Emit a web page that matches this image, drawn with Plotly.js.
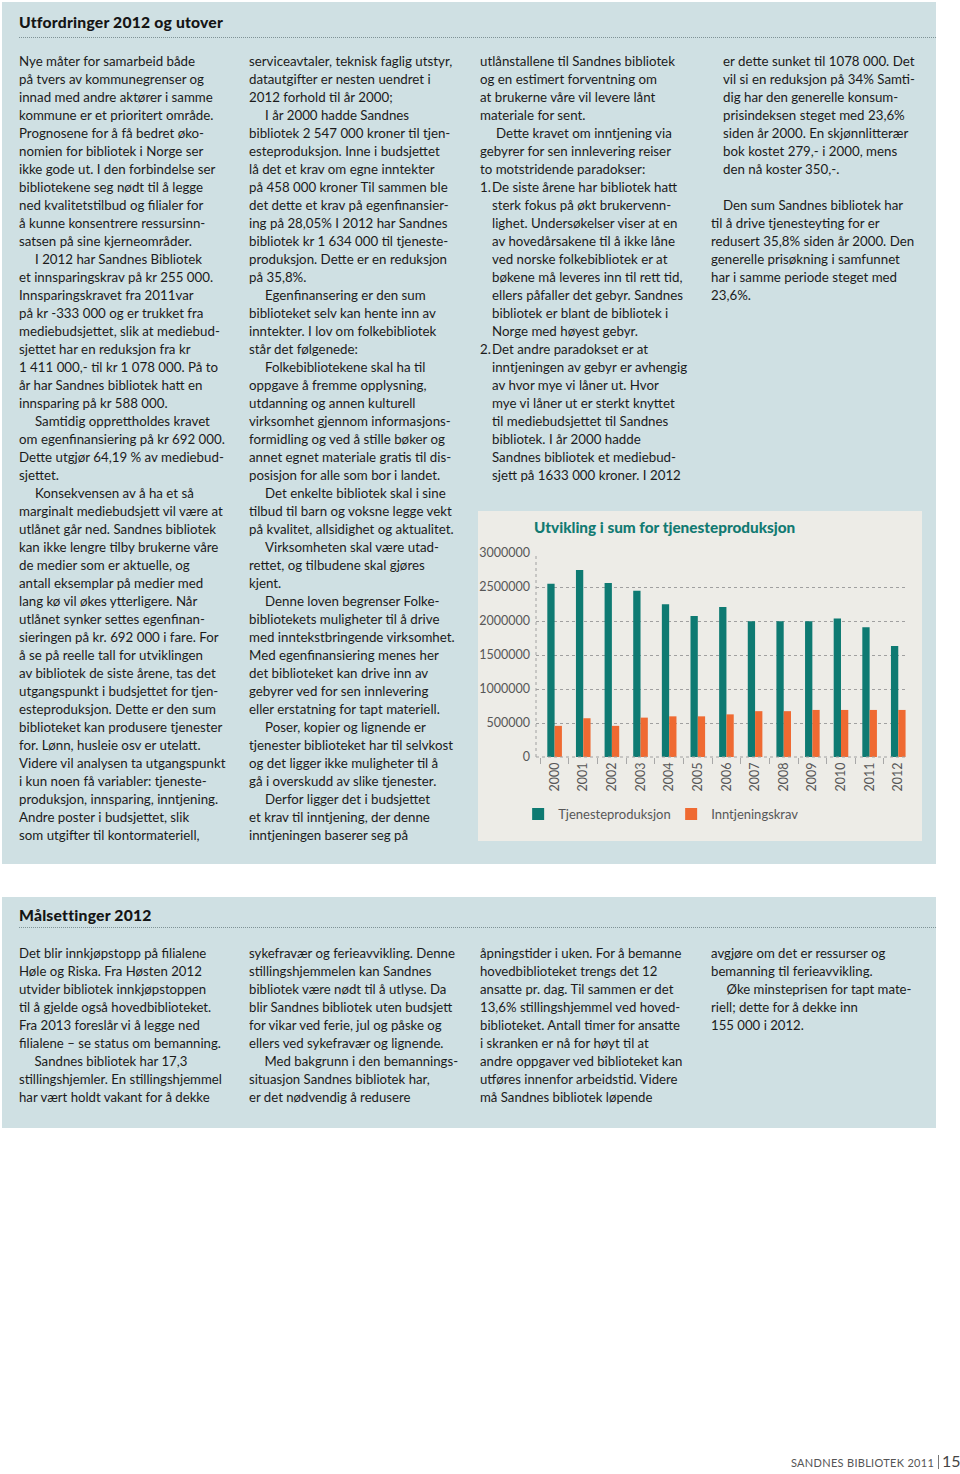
<!DOCTYPE html>
<html>
<head>
<meta charset="utf-8">
<script src="https://cdn.plot.ly/plotly-3.0.1.min.js"></script>
<style>
  html, body { margin:0; padding:0; background:#ffffff; }
  body { width:960px; height:1474px; position:relative; overflow:hidden; font-family:"Lato","Open Sans",sans-serif; color:#1b1b1b; }
  .box { position:absolute; background:#cfe0e3; }
  .head { position:absolute; font-weight:900; font-size:15.7px; letter-spacing:0.2px; color:#151515; }
  .rule { position:absolute; height:0; border-top:1px dotted #7f9396; }
  .col { position:absolute; font-size:13.3px; line-height:18px; white-space:pre; }
  .col.b { transform:scaleX(0.97); transform-origin:0 0; font-size:13.6px; }
  .i { display:inline-block; width:16px; }
  .li { display:inline-block; width:12px; }
  #chartpanel { position:absolute; left:478px; top:511px; width:444px; height:330px; }
  .foot { position:absolute; top:1456px; left:791px; font-size:11px; letter-spacing:0.3px; color:#555; white-space:nowrap; }
  .pg { position:absolute; top:1451px; left:942px; font-size:16px; color:#444; }
  .bar { position:absolute; left:938px; top:1455px; width:1px; height:14px; background:#777; }
</style>
</head>
<body>
<div class="box" style="left:2px; top:2px; width:934px; height:862px;"></div>
<div class="head" style="left:19px; top:13px;">Utfordringer 2012 og utover</div>
<div class="rule" style="left:19px; top:37px; width:917px;"></div>

<div class="col" style="left:19px; top:52px;">Nye måter for samarbeid både
på tvers av kommunegrenser og
innad med andre aktører i samme
kommune er et prioritert område.
Prognosene for å få bedret øko-
nomien for bibliotek i Norge ser
ikke gode ut. I den forbindelse ser
bibliotekene seg nødt til å legge
ned kvalitetstilbud og filialer for
å kunne konsentrere ressursinn-
satsen på sine kjerneområder.
<span class="i"></span>I 2012 har Sandnes Bibliotek
et innsparingskrav på kr 255 000.
Innsparingskravet fra 2011var
på kr -333 000 og er trukket fra
mediebudsjettet, slik at mediebud-
sjettet har en reduksjon fra kr
1 411 000,- til kr 1 078 000. På to
år har Sandnes bibliotek hatt en
innsparing på kr 588 000.
<span class="i"></span>Samtidig opprettholdes kravet
om egenfinansiering på kr 692 000.
Dette utgjør 64,19 % av mediebud-
sjettet.
<span class="i"></span>Konsekvensen av å ha et så
marginalt mediebudsjett vil være at
utlånet går ned. Sandnes bibliotek
kan ikke lengre tilby brukerne våre
de medier som er aktuelle, og
antall eksemplar på medier med
lang kø vil økes ytterligere. Når
utlånet synker settes egenfinan-
sieringen på kr. 692 000 i fare. For
å se på reelle tall for utviklingen
av bibliotek de siste årene, tas det
utgangspunkt i budsjettet for tjen-
esteproduksjon. Dette er den sum
biblioteket kan produsere tjenester
for. Lønn, husleie osv er utelatt.
Videre vil analysen ta utgangspunkt
i kun noen få variabler: tjeneste-
produksjon, innsparing, inntjening.
Andre poster i budsjettet, slik
som utgifter til kontormateriell,</div>

<div class="col" style="left:249px; top:52px;">serviceavtaler, teknisk faglig utstyr,
datautgifter er nesten uendret i
2012 forhold til år 2000;
<span class="i"></span>I år 2000 hadde Sandnes
bibliotek 2 547 000 kroner til tjen-
esteproduksjon. Inne i budsjettet
lå det et krav om egne inntekter
på 458 000 kroner Til sammen ble
det dette et krav på egenfinansier-
ing på 28,05% I 2012 har Sandnes
bibliotek kr 1 634 000 til tjeneste-
produksjon. Dette er en reduksjon
på 35,8%.
<span class="i"></span>Egenfinansering er den sum
biblioteket selv kan hente inn av
inntekter. I lov om folkebibliotek
står det følgenede:
<span class="i"></span>Folkebibliotekene skal ha til
oppgave å fremme opplysning,
utdanning og annen kulturell
virksomhet gjennom informasjons-
formidling og ved å stille bøker og
annet egnet materiale gratis til dis-
posisjon for alle som bor i landet.
<span class="i"></span>Det enkelte bibliotek skal i sine
tilbud til barn og voksne legge vekt
på kvalitet, allsidighet og aktualitet.
<span class="i"></span>Virksomheten skal være utad-
rettet, og tilbudene skal gjøres
kjent.
<span class="i"></span>Denne loven begrenser Folke-
bibliotekets muligheter til å drive
med inntekstbringende virksomhet.
Med egenfinansiering menes her
det biblioteket kan drive inn av
gebyrer ved for sen innlevering
eller erstatning for tapt materiell.
<span class="i"></span>Poser, kopier og lignende er
tjenester biblioteket har til selvkost
og det ligger ikke muligheter til å
gå i overskudd av slike tjenester.
<span class="i"></span>Derfor ligger det i budsjettet
et krav til inntjening, der denne
inntjeningen baserer seg på</div>

<div class="col" style="left:480px; top:52px;">utlånstallene til Sandnes bibliotek
og en estimert forventning om
at brukerne våre vil levere lånt
materiale for sent.
<span class="i"></span>Dette kravet om inntjening via
gebyrer for sen innlevering reiser
to motstridende paradokser:
<span class="li">1.</span>De siste årene har bibliotek hatt
<span class="li"></span>sterk fokus på økt brukervenn-
<span class="li"></span>lighet. Undersøkelser viser at en
<span class="li"></span>av hovedårsakene til å ikke låne
<span class="li"></span>ved norske folkebibliotek er at
<span class="li"></span>bøkene må leveres inn til rett tid,
<span class="li"></span>ellers påfaller det gebyr. Sandnes
<span class="li"></span>bibliotek er blant de bibliotek i
<span class="li"></span>Norge med høyest gebyr.
<span class="li">2.</span>Det andre paradokset er at
<span class="li"></span>inntjeningen av gebyr er avhengig
<span class="li"></span>av hvor mye vi låner ut. Hvor
<span class="li"></span>mye vi låner ut er sterkt knyttet
<span class="li"></span>til mediebudsjettet til Sandnes
<span class="li"></span>bibliotek. I år 2000 hadde
<span class="li"></span>Sandnes bibliotek et mediebud-
<span class="li"></span>sjett på 1633 000 kroner. I 2012</div>

<div class="col" style="left:711px; top:52px;"><span class="li"></span>er dette sunket til 1078 000. Det
<span class="li"></span>vil si en reduksjon på 34% Samti-
<span class="li"></span>dig har den generelle konsum-
<span class="li"></span>prisindeksen steget med 23,6%
<span class="li"></span>siden år 2000. En skjønnlitterær
<span class="li"></span>bok kostet 279,- i 2000, mens
<span class="li"></span>den nå koster 350,-.

<span class="li"></span>Den sum Sandnes bibliotek har
til å drive tjenesteyting for er
redusert 35,8% siden år 2000. Den
generelle prisøkning i samfunnet
har i samme periode steget med
23,6%.</div>

<div id="chartpanel"></div>

<div class="box" style="left:2px; top:897px; width:934px; height:231px;"></div>
<div class="head" style="left:19px; top:906px;">Målsettinger 2012</div>
<div class="rule" style="left:19px; top:927px; width:917px;"></div>

<div class="col b" style="left:19px; top:944px;">Det blir innkjøpstopp på filialene
Høle og Riska. Fra Høsten 2012
utvider bibliotek innkjøpstoppen
til å gjelde også hovedbiblioteket.
Fra 2013 foreslår vi å legge ned
filialene – se status om bemanning.
<span class="i"></span>Sandnes bibliotek har 17,3
stillingshjemler. En stillingshjemmel
har vært holdt vakant for å dekke</div>

<div class="col b" style="left:249px; top:944px;">sykefravær og ferieavvikling. Denne
stillingshjemmelen kan Sandnes
bibliotek være nødt til å utlyse. Da
blir Sandnes bibliotek uten budsjett
for vikar ved ferie, jul og påske og
ellers ved sykefravær og lignende.
<span class="i"></span>Med bakgrunn i den bemannings-
situasjon Sandnes bibliotek har,
er det nødvendig å redusere</div>

<div class="col b" style="left:480px; top:944px;">åpningstider i uken. For å bemanne
hovedbiblioteket trengs det 12
ansatte pr. dag. Til sammen er det
13,6% stillingshjemmel ved hoved-
biblioteket. Antall timer for ansatte
i skranken er nå for høyt til at
andre oppgaver ved biblioteket kan
utføres innenfor arbeidstid. Videre
må Sandnes bibliotek løpende</div>

<div class="col b" style="left:711px; top:944px;">avgjøre om det er ressurser og
bemanning til ferieavvikling.
<span class="i"></span>Øke minsteprisen for tapt mate-
riell; dette for å dekke inn
155 000 i 2012.</div>

<div class="foot">SANDNES BIBLIOTEK 2011</div>
<div class="bar"></div>
<div class="pg">15</div>

<script>
// ---- chart data ----
const years = ["2000","2001","2002","2003","2004","2005","2006","2007","2008","2009","2010","2011","2012"];
const tjenesteproduksjon = [2547000, 2750000, 2560000, 2445000, 2245000, 2075000, 2205000, 1995000, 1995000, 1998000, 2035000, 1908000, 1634000];
const inntjeningskrav = [458000, 570000, 458000, 579000, 598000, 598000, 627000, 674000, 674000, 692000, 692000, 692000, 692000];
const yTicks = [0, 500000, 1000000, 1500000, 2000000, 2500000, 3000000];
const chartTitle = "Utvikling i sum for tjenesteproduksjon";
const seriesNames = ["Tjenesteproduksjon", "Inntjeningskrav"];

const tickFont = {family: "Lato, sans-serif", size: 12.5, color: "#575757", weight: 400};

const data = [
  {type: "bar", name: seriesNames[0], x: years, y: tjenesteproduksjon, marker: {color: "#0e7a72"}},
  {type: "bar", name: seriesNames[1], x: years, y: inntjeningskrav, marker: {color: "#ef6a32"}}
];

const layout = {
  width: 444, height: 330,
  paper_bgcolor: "#edece7", plot_bgcolor: "#edece7",
  margin: {l: 58, r: 14, t: 42, b: 78},
  barmode: "group", bargap: 0.49, bargroupgap: 0,
  title: {text: chartTitle, x: 56/444, xanchor: "left", xref: "container",
          y: 1 - 17/330, yanchor: "middle", yref: "container",
          font: {family: "Lato, sans-serif", size: 15.3, color: "#127a72", weight: 900}},
  xaxis: {type: "category", range: [-0.65, 12.34], tickangle: -90, tickfont: tickFont,
          showgrid: false, showline: false, zeroline: false,
          ticks: "outside", tickson: "boundaries", ticklen: 6, tickcolor: "#a8a8a8", ticklabelstandoff: 2},
  yaxis: {range: [0, 3000000], tickvals: yTicks, ticktext: yTicks.map(String), tickfont: tickFont,
          showgrid: true, gridcolor: "#a0a0a0", griddash: "dot", gridwidth: 1,
          zeroline: false, showline: false, ticks: "", ticklabelstandoff: 5},
  showlegend: true,
  legend: {orientation: "h", x: -0.048, xanchor: "left", y: -0.28, yanchor: "middle",
           font: {family: "Lato, sans-serif", size: 13, color: "#575757", weight: 400},
           entrywidth: 108, entrywidthmode: "pixels", bgcolor: "rgba(0,0,0,0)", itemwidth: 30},
  shapes: [
    {type: "line", xref: "paper", yref: "paper", x0: 0, x1: 0, y0: 0, y1: 1,
     line: {color: "#a0a0a0", width: 1, dash: "dot"}},
    {type: "line", xref: "paper", yref: "paper", x0: 0, x1: 1, y0: 0, y1: 0,
     line: {color: "#a0a0a0", width: 1, dash: "dot"}}
  ]
};

Plotly.newPlot("chartpanel", data, layout, {displayModeBar: false, staticPlot: true});
</script>
</body>
</html>
